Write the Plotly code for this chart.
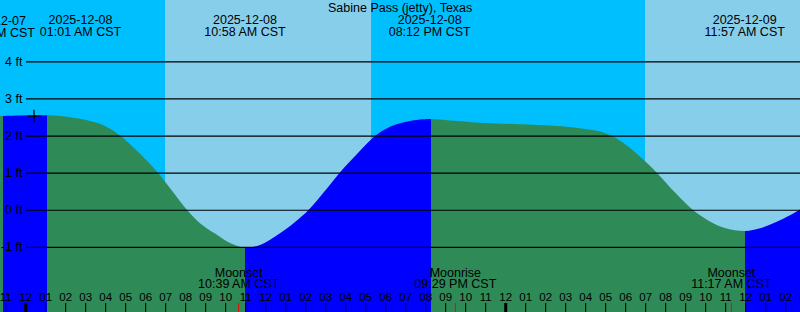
import plotly.graph_objects as go

# ---------------- data ----------------
# hours relative to 2025-12-08 00:00 CST
tide_hours = [-1.285, -1.135, -0.285, 0.415, 1.065, 1.715, 2.215, 2.715, 3.215, 3.715,
              4.215, 4.75, 5.715, 6.63, 7.365, 8.08, 8.715, 9.465, 10.215, 10.965,
              11.715, 12.715, 13.465, 14.13, 14.915, 15.68, 16.565, 17.465, 18.215, 18.965,
              19.715, 20.265, 21.215, 22.715, 24.715, 26.365, 27.215, 27.965, 28.715, 29.315,
              29.965, 30.715, 31.58, 32.515, 33.38, 34.215, 34.965, 35.965, 36.715, 37.465,
              38.215, 38.715]
tide_ft = [2.547, 2.542, 2.553, 2.558, 2.561, 2.542, 2.507, 2.466, 2.407, 2.33,
           2.20, 2.0, 1.52, 1.0, 0.493, 0.0, -0.35, -0.63, -0.885, -1.003,
           -0.935, -0.62, -0.315, 0.0, 0.49, 1.0, 1.518, 2.0, 2.25, 2.38,
           2.447, 2.461, 2.42, 2.361, 2.318, 2.28, 2.245, 2.19, 2.12, 2.0,
           1.78, 1.45, 1.0, 0.45, 0.0, -0.302, -0.477, -0.558, -0.485, -0.33,
           -0.135, 0.022]

# turning points of the tide (segment boundaries)
event_hours = [-1.135, 1.065, 10.965, 20.265, 35.965]
first_segment_rising = False

# labelled tide events (top labels)
event_label_hours = [-1.61, 2.74, 10.965, 20.2, 35.95]
event_dates = ["2025-12-07", "2025-12-08", "2025-12-08", "2025-12-08", "2025-12-09"]
event_times = ["10:26 PM CST", "01:01 AM CST", "10:58 AM CST", "08:12 PM CST", "11:57 AM CST"]

# sun: night/day boundaries
sunrise_hours = [6.967, 30.967]
sunset_hours = [17.267]

# moon events
moon_hours = [10.65, 21.483, 35.283]
moon_names = ["Moonset", "Moonrise", "Moonset"]
moon_times = ["10:39 AM CST", "09:29 PM CST", "11:17 AM CST"]

# hour ticks
hour_ticks = list(range(-1, 40))
hour_labels = ["11", "12", "01", "02", "03", "04", "05", "06", "07", "08", "09", "10", "11",
               "12", "01", "02", "03", "04", "05", "06", "07", "08", "09", "10", "11",
               "12", "01", "02", "03", "04", "05", "06", "07", "08", "09", "10", "11",
               "12", "01", "02", "03"]
midnight_hours = [0, 24]

ft_levels = [-1, 0, 1, 2, 3, 4]
ft_labels = ["-1 ft", "0 ft", "1 ft", "2 ft", "3 ft", "4 ft"]

mark_hour = [0.415]
mark_ft = [2.54]

title = "Sabine Pass (jetty), Texas"

# ---------------- style ----------------
X_RANGE = [-1.285, 38.715]
Y_RANGE = [-2.743, 5.668]
NIGHT = "#00BFFF"
DAY = "#87CEEB"
RISE = "#0000FF"
FALL = "#2E8B57"
FONT = "Liberation Sans"
ROW_DATE, ROW_TIME = 5.115, 4.79
ROW_MOON1, ROW_MOON2 = -1.705, -2.02
ROW_HOURS = -2.36
TRANSPARENT = "rgba(0,0,0,0)"


def in_range(h):
    return X_RANGE[0] <= h <= X_RANGE[1]


def to_paper(h):
    return (h - X_RANGE[0]) / (X_RANGE[1] - X_RANGE[0])


fig = go.Figure()
axes_layout = {}

# --- subplot 1 (x): day/night bands, drawn first
day_ends = sunset_hours + [X_RANGE[1] + 1]
for s, e in zip(sunrise_hours, day_ends):
    fig.add_trace(go.Scatter(x=[s, e, e, s, s], y=[-4, -4, 7, 7, -4], mode="lines",
                             fill="toself", fillcolor=DAY, line=dict(width=0),
                             xaxis="x", yaxis="y", hoverinfo="skip", showlegend=False))
axes_layout["xaxis"] = dict(range=X_RANGE, domain=[0, 1], visible=False, fixedrange=True, anchor="y")

# --- subplots 2..7: tide fill segments, each clipped to its own time window
bounds = [X_RANGE[0]] + event_hours + [X_RANGE[1]]
rising = first_segment_rising
n = len(tide_hours)
for i in range(len(bounds) - 1):
    a, b = bounds[i], bounds[i + 1]
    idx = [k for k, h in enumerate(tide_hours) if a - 1e-9 <= h <= b + 1e-9]
    lo, hi = max(0, idx[0] - 2), min(n - 1, idx[-1] + 2)
    xs = tide_hours[lo:hi + 1]
    ys = tide_ft[lo:hi + 1]
    ax_name = "x%d" % (i + 2)
    color = RISE if rising else FALL
    fig.add_trace(go.Scatter(x=[xs[0], xs[-1]], y=[-3.5, -3.5], mode="lines",
                             line=dict(width=0), xaxis=ax_name, yaxis="y",
                             hoverinfo="skip", showlegend=False))
    fig.add_trace(go.Scatter(x=xs, y=ys, mode="lines",
                             line=dict(width=0, shape="spline", smoothing=1, simplify=False),
                             fill="tonexty", fillcolor=color, xaxis=ax_name, yaxis="y",
                             hoverinfo="skip", showlegend=False))
    axes_layout["xaxis%d" % (i + 2)] = dict(range=[a, b], domain=[to_paper(a), to_paper(b)],
                                           visible=False, fixedrange=True, anchor="y")
    rising = not rising

# --- last subplot: marks, ticks and texts on top
top_ax = "x%d" % (len(bounds) + 1)
axes_layout["xaxis%d" % (len(bounds) + 1)] = dict(range=X_RANGE, domain=[0, 1], visible=False,
                                                 fixedrange=True, anchor="y")

fig.add_trace(go.Scatter(x=mark_hour, y=mark_ft, mode="markers", xaxis=top_ax, yaxis="y",
                         marker=dict(symbol="cross-thin", size=9, line=dict(color="black", width=1.2)),
                         showlegend=False, hoverinfo="skip"))


def seg(xs, y0, y1):
    X, Y = [], []
    for x in xs:
        X += [x, x, None]
        Y += [y0, y1, None]
    return X, Y


TICK_TOP, TICK_BOT = -2.5, -3.0
for xs_, w, c in [(hour_ticks, 1, "black"), (midnight_hours, 3, "black"), (moon_hours, 1, "red")]:
    tx, ty = seg(xs_, TICK_TOP, TICK_BOT)
    fig.add_trace(go.Scatter(x=tx, y=ty, mode="lines", line=dict(color=c, width=w),
                             xaxis=top_ax, yaxis="y", showlegend=False, hoverinfo="skip"))

annotations = []


def text_row(xs, texts, y, size):
    ins = [(x, t) for x, t in zip(xs, texts) if in_range(x)]
    outs = [(x, t) for x, t in zip(xs, texts) if not in_range(x)]
    fig.add_trace(go.Scatter(x=[p[0] for p in ins], y=[y] * len(ins), text=[p[1] for p in ins],
                             mode="text", textposition="middle center", cliponaxis=False,
                             textfont=dict(family=FONT, size=size, color="black"),
                             xaxis=top_ax, yaxis="y", showlegend=False, hoverinfo="skip"))
    # labels whose anchor lies just outside the visible time window
    for x, t in outs:
        annotations.append(dict(xref="paper", yref="y", x=to_paper(x), y=y, text=t,
                                showarrow=False, xanchor="center", yanchor="middle",
                                font=dict(family=FONT, size=size, color="black")))


text_row(event_label_hours, event_dates, ROW_DATE, 12.5)
text_row(event_label_hours, event_times, ROW_TIME, 12.5)
text_row(moon_hours, moon_names, ROW_MOON1, 12.5)
text_row(moon_hours, moon_times, ROW_MOON2, 12.5)
text_row(hour_ticks, hour_labels, ROW_HOURS, 11.5)

shapes = []
for lv in ft_levels:
    shapes.append(dict(type="line", xref="paper", yref="y", x0=26 / 800, x1=1, y0=lv, y1=lv,
                       line=dict(color="black", width=1.2), layer="above"))

for lv, t in zip(ft_levels, ft_labels):
    annotations.append(dict(xref="paper", yref="y", x=25 / 800, y=lv, text=t, showarrow=False,
                            xanchor="right", yanchor="middle",
                            font=dict(family=FONT, size=12.5, color="black")))
annotations.append(dict(xref="paper", yref="paper", x=0.5, y=1 - 7.5 / 312, text=title,
                        showarrow=False, xanchor="center", yanchor="middle",
                        font=dict(family=FONT, size=12.5, color="black")))

fig.update_layout(
    width=800, height=312, margin=dict(l=0, r=0, t=0, b=0),
    paper_bgcolor=NIGHT, plot_bgcolor=TRANSPARENT,
    yaxis=dict(range=Y_RANGE, visible=False, fixedrange=True, anchor="x"),
    shapes=shapes, annotations=annotations, showlegend=False,
    **axes_layout,
)

fig.write_html("out.html", config={"displayModeBar": False})
